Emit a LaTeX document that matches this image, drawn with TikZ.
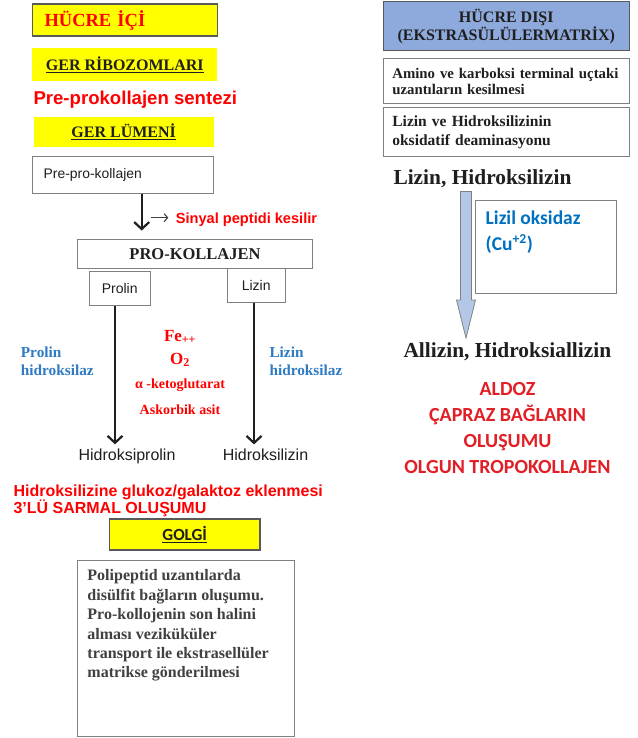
\documentclass[tikz,border=0pt]{standalone}
\usepackage{fontspec}
\setmainfont{Liberation Serif}
\setsansfont{Liberation Sans}
\newfontfamily\calfont{Carlito}
\usepackage{tikz}
\usetikzlibrary{positioning,arrows.meta}
\definecolor{cRed}{HTML}{FF0000}
\definecolor{cCrimson}{HTML}{E21F26}
\definecolor{cBlue}{HTML}{2E7BC4}
\definecolor{cDeep}{HTML}{0070C0}
\definecolor{cInk}{HTML}{1F1F1F}
\definecolor{cGrey}{HTML}{404040}
\definecolor{cYellow}{HTML}{FFFF00}
\definecolor{cSky}{HTML}{8EA9DB}
\definecolor{cIce}{HTML}{B4C7E7}
\definecolor{cRule}{HTML}{808080}
\definecolor{cFrame}{HTML}{595959}
\newcommand{\fsz}[2]{\fontsize{#1}{#2}\selectfont}

\begin{document}
\begin{tikzpicture}[x=1pt, y=-1pt,
  box/.style={draw=cRule, line width=1pt, fill=white, inner sep=0pt, text=cInk},
  band/.style={fill=cYellow, inner sep=0pt, text=cInk, font=\bfseries\fsz{16}{18}},
  flow/.style={-{Straight Barb[length=7pt,width=15pt]}, cInk, line width=2.2pt},
  tick/.style={-{Straight Barb[length=3.5pt,width=8pt]}, cGrey, line width=1.1pt},
  redsans/.style={font=\sffamily\bfseries\fsz{16}{17.3}, text=cRed, inner sep=0pt},
  redserif/.style={font=\bfseries\fsz{14}{16}, text=cRed, inner sep=0pt},
  enzyme/.style={font=\bfseries\fsz{15.3}{18.3}, text=cBlue, align=left, anchor=west, inner sep=0pt},
  product/.style={font=\sffamily\fsz{16}{18}, text=cInk, inner sep=0pt},
  bigtxt/.style={font=\bfseries\fsz{21.4}{24}, text=cInk, anchor=west, inner sep=0pt},
]
\path[use as bounding box, fill=white] (0,0) rectangle (637,738);

% ---------- Hucre ici: ribozom ve lumen ----------
\node[box, draw=cFrame, line width=1.5pt, fill=cYellow, minimum width=184.6pt, minimum height=32pt,
      text width=161pt, inner xsep=11.6pt, align=left, font=\bfseries\fsz{18.5}{20}, text=cRed] (ici) at (125,20) {HÜCRE İÇİ};
\node[band, minimum width=185pt, minimum height=32.4pt] (ribo) at (124.8,64.5) {\underline{GER RİBOZOMLARI}};
\node[redsans, font=\sffamily\bfseries\fsz{18.6}{20}, anchor=west] (sentez) at (33.3,100) {Pre-prokollajen sentezi};
\node[band, minimum width=180pt, minimum height=29.4pt] (lumen) at (123.7,132) {\underline{GER LÜMENİ}};
\node[box, minimum width=180.6pt, minimum height=36pt, text width=158.6pt, inner xsep=11pt, align=left,
      font=\sffamily\fsz{13.9}{16}] (ppk) at (123,175) {Pre-pro-kollajen};

% ---------- Pro-kollajen ve hidroksilasyon ----------
\node[box, minimum width=235.4pt, minimum height=29.3pt, font=\bfseries\fsz{16.5}{18}] (prok) at (195,253.7) {PRO-KOLLAJEN};
\draw[flow, shorten >=8pt] ([xshift=18.7pt]ppk.south) -- ([xshift=-53.3pt]prok.north);
\node[redsans, font=\sffamily\bfseries\fsz{14.6}{16}, anchor=west] (sinyal) at (175.7,220) {Sinyal peptidi kesilir};
\coordinate (cut) at (150.7,217.7);
\draw[tick, shorten >=7.4pt] (cut) -- (cut -| sinyal.west);

\node[box, minimum width=61.3pt, minimum height=33.6pt, font=\sffamily\fsz{14}{16}] (prolin) at (119.7,288.5) {Prolin};
\node[box, minimum width=57.7pt, minimum height=33.7pt, font=\sffamily\fsz{14}{16}] (lizin) at (256.2,285.2) {Lizin};

\node[enzyme] (phyd) at (20.7,361) {Prolin\\hidroksilaz};
\node[enzyme] (lhyd) at (269.3,361) {Lizin\\hidroksilaz};
\node[redserif, font=\bfseries\fsz{17}{20}] (fe) at (180,337) {Fe\textsubscript{++}};
\node[redserif, font=\bfseries\fsz{17}{20}] (oxy) at (180,360) {O\textsubscript{2}};
\node[redserif] (keto) at (180,385) {α -ketoglutarat};
\node[redserif] (asc) at (180,410) {Askorbik asit};

\node[product] (hp) at (127,456.5) {Hidroksiprolin};
\node[product] (hl) at (265.5,455) {Hidroksilizin};
\coordinate (pa) at ([xshift=-4.7pt]prolin.south);
\coordinate (la) at ([xshift=-2.2pt]lizin.south);
\draw[flow, shorten >=4.5pt] (pa) -- (pa |- hp.north);
\draw[flow, shorten >=4.5pt] (la) -- (la |- hl.north);

% ---------- Golgi ----------
\node[redsans, align=left, anchor=west] (glk) at (13.3,500.8) {Hidroksilizine glukoz/galaktoz eklenmesi\\3’LÜ SARMAL OLUŞUMU};
\node[box, draw=cFrame, fill=cYellow, line width=1.2pt, minimum width=150.7pt, minimum height=31pt,
      font=\calfont\bfseries\fsz{17}{20}] (golgi) at (184.7,534.5) {\underline{GOLGİ}};
\node[box, minimum width=216.7pt, minimum height=176.7pt] (golgibox) at (185.7,648.4) {};
\node[font=\bfseries\fsz{16}{19.4}, text=cGrey, align=left, inner sep=0pt,
      below right=10pt and 10.4pt of golgibox.north west] (golgitext)
  {Polipeptid uzantılarda\\disülfit bağların oluşumu.\\Pro-kollojenin son halini\\alması veziküküler\\transport ile ekstrasellüler\\matrikse gönderilmesi};

% ---------- Hucre disi ----------
\node[box, draw=cFrame, fill=cSky, line width=1.2pt, minimum width=246pt, minimum height=49pt, align=center,
      font=\bfseries\fsz{16}{16.6}] (disi) at (506.3,26.3) {HÜCRE DIŞI\\(EKSTRASÜLÜLERMATRİX)};
\node[box, minimum width=245.7pt, minimum height=45pt, text width=227.7pt, inner xsep=9pt, align=left,
      font=\bfseries\fsz{14.8}{16.6}] (uc) at (506.2,81.5) {Amino ve karboksi terminal uçtaki\\uzantıların kesilmesi};
\node[box, minimum width=245.7pt, minimum height=49.4pt, text width=227.7pt, inner xsep=9pt, align=left,
      font=\bfseries\fsz{15.5}{19}] (deam) at (506.2,132) {Lizin ve Hidroksilizinin\\oksidatif deaminasyonu};

\node[bigtxt] (lh) at (393.3,179) {Lizin, Hidroksilizin};
% block arrow
\draw[draw=cRule, fill=cIce, line width=0.8pt]
  (460.5,191.5) -- (471.5,191.5) -- (471.5,300) -- (475.5,300) -- (466,338) -- (456.5,300) -- (460.5,300) -- cycle;
\node[box, minimum width=141pt, minimum height=93.3pt] (loxbox) at (545.5,246.7) {};
\node[font=\calfont\bfseries\fsz{19.5}{26}, text=cDeep, align=left, inner sep=0pt,
      below right=11.5pt and 11pt of loxbox.north west] (lox) {Lizil oksidaz\\(Cu\textsuperscript{+2})};
\node[bigtxt] (allz) at (403.3,351.5) {Allizin, Hidroksiallizin};

\node[font=\calfont\bfseries\fsz{20}{25.8}, text=cCrimson, align=center, inner sep=0pt] (aldoz) at (507.5,428)
  {ALDOZ\\ÇAPRAZ BAĞLARIN\\OLUŞUMU\\OLGUN TROPOKOLLAJEN};

\end{tikzpicture}
\end{document}
